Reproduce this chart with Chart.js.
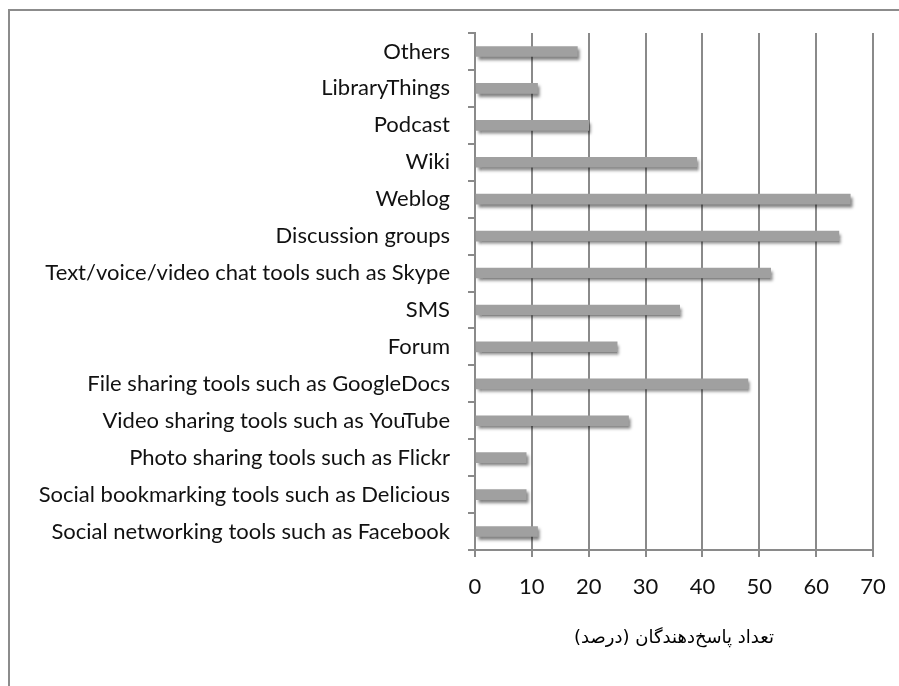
<!DOCTYPE html>
<html>
<head>
<meta charset="utf-8">
<script src="https://cdn.jsdelivr.net/npm/chart.js@4/dist/chart.umd.min.js"></script>
<style>
  html, body { margin: 0; padding: 0; background: #fff; overflow: hidden; }
  #wrap { position: absolute; left: 0; top: 0; width: 899px; height: 686px; }
  #frame { position: absolute; left: 8px; top: 9px; width: 1000px; height: 1000px;
           border-top: 2px solid #8c8c8c; border-left: 2px solid #8c8c8c; }
</style>
</head>
<body>
<div id="frame"></div>
<div id="wrap"><canvas id="myChart"></canvas></div>
<script>
// categories, top to bottom as in the picture
const categories = [
  "Others",
  "LibraryThings",
  "Podcast",
  "Wiki",
  "Weblog",
  "Discussion groups",
  "Text/voice/video chat tools such as Skype",
  "SMS",
  "Forum",
  "File sharing tools such as GoogleDocs",
  "Video sharing tools such as YouTube",
  "Photo sharing tools such as Flickr",
  "Social bookmarking tools such as Delicious",
  "Social networking tools such as Facebook",
];
const percents = [18, 11, 20, 39, 66, 64, 52, 36, 25, 48, 27, 9, 9, 11];
const xTicks = [0, 10, 20, 30, 40, 50, 60, 70];
const xTitle = "تعداد پاسخ‌دهندگان (درصد)";

const gridGray = "#8a8a8a";

// soft drop shadow under the bars, like the original
const barShadow = {
  id: "barShadow",
  beforeDatasetDraw(chart) {
    const c = chart.ctx;
    c.save();
    c.shadowColor = "rgba(0,0,0,0.5)";
    c.shadowBlur = 3;
    c.shadowOffsetX = 2;
    c.shadowOffsetY = 3;
  },
  afterDatasetDraw(chart) {
    chart.ctx.restore();
  },
};

const ctx = document.getElementById("myChart");
new Chart(ctx, {
  type: "bar",
  data: {
    labels: categories,
    datasets: [
      {
        data: percents,
        backgroundColor: "#a0a0a0",
        borderWidth: 0,
        barThickness: 10,
      },
    ],
  },
  options: {
    indexAxis: "y",
    responsive: true,
    maintainAspectRatio: false,
    animation: false,
    layout: { padding: { top: 33, right: 26, bottom: 37, left: 0 } },
    plugins: {
      legend: { display: false },
      tooltip: { enabled: false },
    },
    scales: {
      x: {
        min: 0,
        max: 70,
        afterBuildTicks: (scale) => {
          scale.ticks = xTicks.map((v) => ({ value: v }));
        },
        afterFit: (scale) => {
          // the "70" label fits inside the right padding already
          scale.paddingRight = 0;
        },
        border: { display: true, color: gridGray, width: 2 },
        grid: {
          color: gridGray,
          lineWidth: 2,
          drawTicks: true,
          tickLength: 7,
          tickColor: gridGray,
        },
        ticks: {
          color: "#111",
          padding: 17,
          font: { family: "Lato", size: 22 },
        },
        title: {
          display: true,
          text: xTitle,
          color: "#000",
          padding: { top: 10, bottom: 0 },
          font: { family: "DejaVu Sans", size: 18 },
        },
      },
      y: {
        afterFit: (scale) => {
          scale.width = 475;
        },
        border: { display: true, color: gridGray, width: 2 },
        grid: {
          offset: true,
          drawOnChartArea: false,
          drawTicks: true,
          tickLength: 7,
          tickColor: gridGray,
          lineWidth: 2,
        },
        ticks: {
          color: "#111",
          padding: 18,
          autoSkip: false,
          font: { family: "Lato", size: 22 },
        },
      },
    },
  },
  plugins: [barShadow],
});
</script>
</body>
</html>
